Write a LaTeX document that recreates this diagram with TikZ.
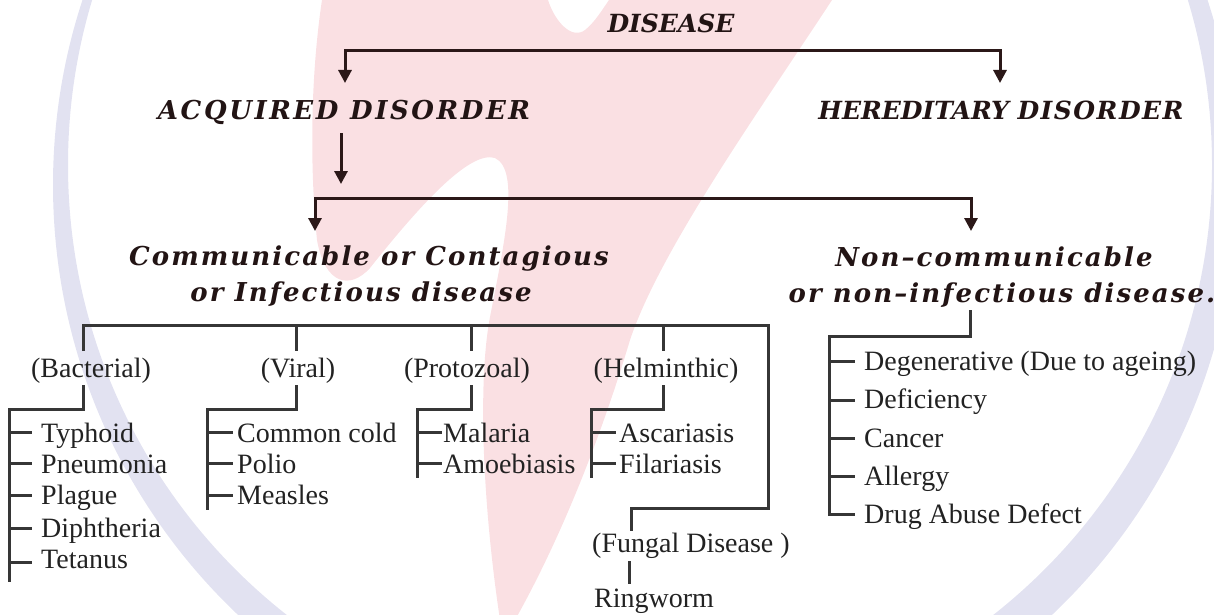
\documentclass[tikz,border=0pt]{standalone}
\usepackage{fontspec}
\setmainfont{Liberation Serif}
\newfontfamily\hdP{DejaVu Serif}
\newfontfamily\hdA[LetterSpace=10]{DejaVu Serif}
\newfontfamily\hdC[LetterSpace=6]{DejaVu Serif}
\newfontfamily\hdB[LetterSpace=8]{DejaVu Serif}
\usetikzlibrary{arrows.meta}
\definecolor{ink}{HTML}{221414}
\definecolor{arrink}{HTML}{2B1818}
\definecolor{treeink}{HTML}{363636}
\definecolor{txt}{HTML}{222222}
\definecolor{lav}{RGB}{226,226,241}
\definecolor{pnk}{RGB}{250,224,227}
\begin{document}
\begin{tikzpicture}[x=1pt,y=-1pt,
  arr/.style={draw=arrink, line width=3pt, {Triangle[width=13pt,length=13pt]}-{Triangle[width=13pt,length=13pt]}},
  arrone/.style={draw=arrink, line width=3pt, -{Triangle[width=13pt,length=13pt]}},
  tree/.style={draw=treeink, line width=3pt},
  head/.style={inner sep=0pt, anchor=base, text=ink, font=\hdP\fontsize{25}{28}\selectfont\bfseries\itshape},
  subhead/.style={inner sep=0pt, anchor=base, text=ink, font=\hdB\fontsize{26}{28}\selectfont\bfseries\itshape},
  cat/.style={inner sep=0pt, anchor=base, text=txt, font=\fontsize{28}{30}\selectfont},
  item/.style={inner sep=0pt, anchor=base west, text=txt, font=\fontsize{28}{30}\selectfont},
]
\useasboundingbox (0,0) rectangle (1214,615);
% watermark
\begin{scope}
\clip (0,0) rectangle (1214,615);
\fill[lav, even odd rule] (645,185) circle (592) (640,165) circle (572);
\fill[pnk] (322,0) -- (548,0) .. controls (555,22) and (572,40) .. (585,30) .. controls (595,22) and (602,10) .. (609,0) -- (832,0)
  .. controls (760,110) and (660,250) .. (630,340) .. controls (600,440) and (560,540) .. (515,620) -- (500,620)
  .. controls (482,500) and (478,380) .. (490,317) .. controls (505,240) and (520,170) .. (495,158)
  .. controls (470,150) and (420,205) .. (370,268) .. controls (350,290) and (325,285) .. (317,240)
  .. controls (310,170) and (310,80) .. (322,0) -- cycle;
\end{scope}

% headings
\node[head] (dis) at (671,33) {DISEASE};
\node[head, font=\hdA\fontsize{26}{28}\selectfont\bfseries\itshape] (acq) at (344,120) {ACQUIRED DISORDER};
\node[head] (her) at (1001,120) {HEREDITARY {\hdC DISORDER}};
\node[subhead] (com1) at (369,265) {Communicable or Contagious};
\node[subhead] (com2) at (361,301) {or Infectious disease};
\node[subhead] (non1) at (994,266) {Non–communicable};
\node[subhead] (non2) at (1002,302) {or non–infectious disease.};

% level connectors
\coordinate (d1) at (345,51);
\coordinate (d2) at (1000,51);
\coordinate (acqIn) at (345,83);
\coordinate (herIn) at (1000,83);
\draw[arr] (acqIn) -- (d1) -- (d2) -- (herIn);
\coordinate (acqOut) at (341,133);
\coordinate (acqTip) at (341,184);
\draw[arrone] (acqOut) -- (acqTip);
\coordinate (c1) at (315,198);
\coordinate (c2) at (971,198);
\coordinate (comIn) at (315,231);
\coordinate (nonIn) at (971,231);
\draw[arr] (comIn) -- (c1) -- (c2) -- (nonIn);

% categories
\node[cat] (bac) at (91,377) {(Bacterial)};
\node[cat] (vir) at (298,377) {(Viral)};
\node[cat] (pro) at (467,377) {(Protozoal)};
\node[cat] (hel) at (666,377) {(Helminthic)};
\node[item] (fun) at (592,552) {(Fungal Disease )};
\node[item] (ring) at (594,607) {Ringworm};

% main tree
\coordinate (t0) at (83,325);
\coordinate (tv) at (296,325);
\coordinate (tp) at (471,325);
\coordinate (th) at (663,325);
\coordinate (t4) at (768,325);
\coordinate (bacTop) at (83,351);
\coordinate (virTop) at (296,351);
\coordinate (proTop) at (471,351);
\coordinate (helTop) at (663,351);
\coordinate (fb1) at (768,508);
\coordinate (fb2) at (631,508);
\coordinate (funTop) at (631,531);
\draw[tree] (bacTop) -- (t0) -- (t4) -- (fb1) -- (fb2) -- (funTop);
\draw[tree] (tv) -- (virTop);
\draw[tree] (tp) -- (proTop);
\draw[tree] (th) -- (helTop);
\coordinate (funBot) at (629,561);
\coordinate (ringTop) at (629,584);
\draw[tree] (funBot) -- (ringTop);

% bacterial
\coordinate (b1) at (83,385);
\coordinate (b2) at (83,409);
\coordinate (b3) at (9,409);
\coordinate (b4) at (9,582);
\draw[tree] (b1) -- (b2) -- (b3) -- (b4);
\node[item] (typ) at (41,442) {Typhoid};
\node[item] (pne) at (41,473) {Pneumonia};
\node[item] (pla) at (41,504) {Plague};
\node[item] (dip) at (41,537) {Diphtheria};
\node[item] (tet) at (41,568) {Tetanus};
\foreach \y in {432,463,495,528,562}{
  \draw[tree] (9,\y) -- (32,\y);
}

% viral
\coordinate (v1) at (296,385);
\coordinate (v2) at (296,409);
\coordinate (v3) at (207,409);
\coordinate (v4) at (207,510);
\draw[tree] (v1) -- (v2) -- (v3) -- (v4);
\node[item] (cc) at (237,442) {Common cold};
\node[item] (pol) at (237,473) {Polio};
\node[item] (mea) at (237,504) {Measles};
\foreach \y in {432,463,495}{
  \draw[tree] (207,\y) -- (233,\y);
}

% protozoal
\coordinate (p1) at (471,385);
\coordinate (p2) at (471,409);
\coordinate (p3) at (417,409);
\coordinate (p4) at (417,478);
\draw[tree] (p1) -- (p2) -- (p3) -- (p4);
\node[item] (mal) at (443,442) {Malaria};
\node[item] (amo) at (443,473) {Amoebiasis};
\foreach \y in {432,463}{
  \draw[tree] (417,\y) -- (442,\y);
}

% helminthic
\coordinate (h1) at (663,385);
\coordinate (h2) at (663,409);
\coordinate (h3) at (591,409);
\coordinate (h4) at (591,478);
\draw[tree] (h1) -- (h2) -- (h3) -- (h4);
\node[item] (asc) at (619,442) {Ascariasis};
\node[item] (fil) at (619,473) {Filariasis};
\foreach \y in {432,463}{
  \draw[tree] (591,\y) -- (616,\y);
}

% non-communicable
\coordinate (n1) at (970,310);
\coordinate (n2) at (970,336);
\coordinate (n3) at (829,336);
\coordinate (n4) at (829,514);
\coordinate (n5) at (855,514);
\draw[tree] (n1) -- (n2) -- (n3) -- (n4) -- (n5);
\node[item] (deg) at (864,370) {Degenerative (Due to ageing)};
\node[item] (def) at (864,408) {Deficiency};
\node[item] (can) at (864,447) {Cancer};
\node[item] (all) at (864,485) {Allergy};
\node[item] (dru) at (864,523) {Drug Abuse Defect};
\foreach \y in {361,400,438,476}{
  \draw[tree] (829,\y) -- (855,\y);
}
\end{tikzpicture}
\end{document}
